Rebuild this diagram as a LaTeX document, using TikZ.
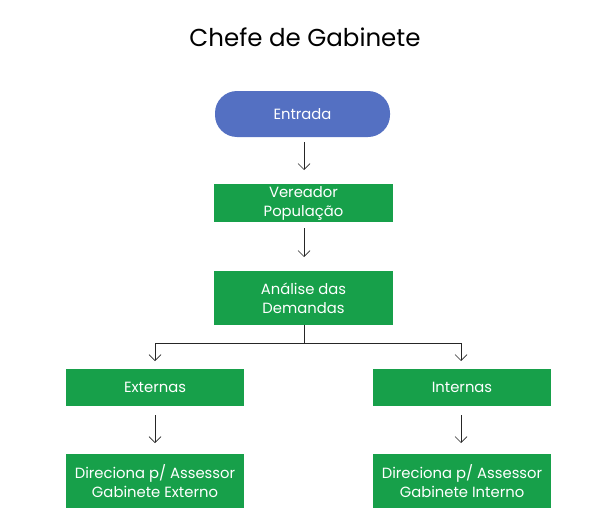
\documentclass[tikz,border=0pt]{standalone}
\usepackage{fontspec}
\setmainfont{Poppins}
\usetikzlibrary{arrows.meta}
\definecolor{boxgreen}{HTML}{17A04A}
\definecolor{boxblue}{HTML}{5470C2}
\begin{document}
\begin{tikzpicture}[x=1pt,y=-1pt,
  gbox/.style={fill=boxgreen, text=white, draw=none, align=center, font=\fontsize{14.8}{19}\selectfont, inner sep=0pt},
  conn/.style={draw=black!85, line width=0.7pt},
  arr/.style={conn, -{Straight Barb[length=6pt,width=12pt,line width=0.7pt]}}]
\useasboundingbox (0,0) rectangle (604,519);
\node (title) at (305,37) {\fontsize{24.5}{28}\selectfont Chefe de Gabinete};
\node[fill=boxblue, text=white, rounded corners=22pt, minimum width=175pt, minimum height=46pt, inner sep=0pt, font=\fontsize{14.8}{19}\selectfont] (entrada) at (302.5,114) {Entrada};
\node[gbox, minimum width=179pt, minimum height=38pt] (vereador) at (303.5,203) {Vereador\\População};
\node[gbox, minimum width=179pt, minimum height=54pt] (analise) at (303.5,298) {Análise das\\Demandas};
\node[gbox, minimum width=178pt, minimum height=37pt] (externas) at (155,387.5) {Externas};
\node[gbox, minimum width=178pt, minimum height=37pt] (internas) at (462,387.5) {Internas};
\node[gbox, minimum width=178pt, minimum height=54pt] (dirext) at (155,481) {Direciona p/ Assessor\\Gabinete Externo};
\node[gbox, minimum width=178pt, minimum height=54pt] (dirint) at (462,481) {Direciona p/ Assessor\\Gabinete Interno};
\coordinate (a1s) at (304,142);
\coordinate (a1e) at (304,170);
\coordinate (a2s) at (304,228);
\coordinate (a2e) at (304,257);
\coordinate (split) at (304,343);
\coordinate (lft) at (155,343);
\coordinate (rgt) at (461,343);
\coordinate (lfte) at (155,361);
\coordinate (rgte) at (461,361);
\coordinate (a3s) at (155,415);
\coordinate (a3e) at (155,443);
\coordinate (a4s) at (461,415);
\coordinate (a4e) at (461,443);
\draw[arr] (a1s) -- (a1e);
\draw[arr] (a2s) -- (a2e);
\draw[conn] (analise.south -| split) -- (split);
\draw[conn] (lft) -- (rgt);
\draw[arr] (lft) -- (lfte);
\draw[arr] (rgt) -- (rgte);
\draw[arr] (a3s) -- (a3e);
\draw[arr] (a4s) -- (a4e);
\end{tikzpicture}
\end{document}
